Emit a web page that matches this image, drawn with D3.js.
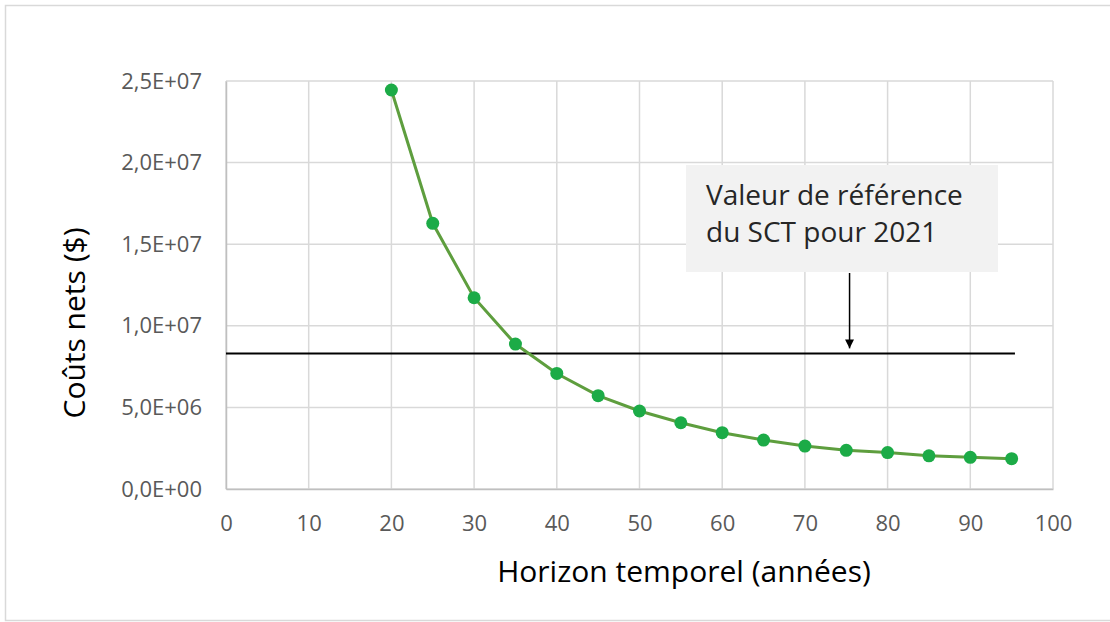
<!DOCTYPE html>
<html>
<head>
<meta charset="utf-8">
<script src="https://cdn.jsdelivr.net/npm/d3@7"></script>
<style>
  body { margin: 0; background: #fff; }
  svg { display: block; font-family: "Open Sans", "Noto Sans", sans-serif; }
</style>
</head>
<body>
<div id="chart"></div>
<script>
// horizon (years) and net costs ($)
const horizons = [20, 25, 30, 35, 40, 45, 50, 55, 60, 65, 70, 75, 80, 85, 90, 95];
const netCosts = [24.45e6, 16.28e6, 11.72e6, 8.88e6, 7.08e6, 5.72e6, 4.78e6, 4.06e6,
  3.45e6, 3.0e6, 2.63e6, 2.37e6, 2.23e6, 2.03e6, 1.94e6, 1.86e6];

const xTicks = [0, 10, 20, 30, 40, 50, 60, 70, 80, 90, 100];
const yTicks = [0, 5e6, 10e6, 15e6, 20e6, 25e6];
const yTickLabels = ["0,0E+00", "5,0E+06", "1,0E+07", "1,5E+07", "2,0E+07", "2,5E+07"];

// reference value (SCT 2021)
const refValue = 8.31e6;
const refStart = 0;
const refEnd = 95.4;
const arrowAt = 75.4;
const noteLines = ["Valeur de référence", "du SCT pour 2021"];

const W = 1110, H = 622;
const margin = { top: 81, right: 57, bottom: 133, left: 226 };
const width = W - margin.left - margin.right;
const height = H - margin.top - margin.bottom;
const FONT = "'Open Sans', 'Noto Sans', sans-serif";

const svg = d3.select("#chart").append("svg")
  .attr("width", W)
  .attr("height", H);

// outer chart border
svg.append("rect")
  .attr("x", 5.5).attr("y", 5.5)
  .attr("width", W + 10).attr("height", 615)
  .attr("fill", "none")
  .attr("stroke", "#d9d9d9")
  .attr("stroke-width", 1.5);

const g = svg.append("g")
  .attr("transform", "translate(" + margin.left + "," + margin.top + ")");

const x = d3.scaleLinear().domain([0, 100]).range([0, width]);
const y = d3.scaleLinear().domain([0, 25e6]).range([height, 0]);

// gridlines
g.append("g").selectAll("line").data(xTicks).join("line")
  .attr("x1", d => x(d)).attr("x2", d => x(d))
  .attr("y1", 0).attr("y2", height)
  .attr("stroke", "#d9d9d9").attr("stroke-width", 1.5);

g.append("g").selectAll("line").data(yTicks).join("line")
  .attr("x1", 0).attr("x2", width)
  .attr("y1", d => y(d)).attr("y2", d => y(d))
  .attr("stroke", "#d9d9d9").attr("stroke-width", 1.5);

// axes (labels only, Excel style)
const xAxis = d3.axisBottom(x).tickValues(xTicks).tickSize(0).tickPadding(26);
g.append("g")
  .attr("transform", "translate(0," + height + ")")
  .call(xAxis)
  .attr("font-family", FONT)
  .attr("font-size", 22)
  .call(a => a.select(".domain").attr("stroke", "#bfbfbf").attr("stroke-width", 1.5))
  .selectAll("text")
  .attr("fill", "#595959");

const yAxis = d3.axisLeft(y).tickValues(yTicks).tickSize(0).tickPadding(24)
  .tickFormat((d, i) => yTickLabels[i]);
g.append("g")
  .call(yAxis)
  .attr("font-family", FONT)
  .attr("font-size", 22)
  .call(a => a.select(".domain").attr("stroke", "#bfbfbf").attr("stroke-width", 1.5))
  .selectAll("text")
  .attr("fill", "#595959");

// axis titles
svg.append("text")
  .attr("x", 684).attr("y", 582)
  .attr("text-anchor", "middle")
  .attr("fill", "#000")
  .attr("font-size", 30)
  .text("Horizon temporel (années)");

svg.append("text")
  .attr("transform", "translate(85,323) rotate(-90)")
  .attr("text-anchor", "middle")
  .attr("fill", "#000")
  .attr("font-size", 30)
  .text("Coûts nets ($)");

// reference line
g.append("line")
  .attr("x1", x(refStart)).attr("x2", x(refEnd))
  .attr("y1", y(refValue)).attr("y2", y(refValue))
  .attr("stroke", "#000").attr("stroke-width", 2);

// annotation box
const boxX = 686 - margin.left, boxY = 165 - margin.top;
g.append("rect")
  .attr("x", boxX).attr("y", boxY)
  .attr("width", 312).attr("height", 107)
  .attr("fill", "#f2f2f2");

g.append("g").selectAll("text").data(noteLines).join("text")
  .attr("x", boxX + 20)
  .attr("y", (d, i) => boxY + 40 + i * 37)
  .attr("fill", "#262626")
  .attr("font-size", 28)
  .text(d => d);

// arrow
svg.append("defs").append("marker")
  .attr("id", "arrowhead")
  .attr("viewBox", "0 0 10 10")
  .attr("refX", 10).attr("refY", 5)
  .attr("markerWidth", 6).attr("markerHeight", 6)
  .attr("markerUnits", "strokeWidth")
  .attr("orient", "auto")
  .append("path")
  .attr("d", "M0,0 L10,5 L0,10 Z")
  .attr("fill", "#000");

g.append("line")
  .attr("x1", x(arrowAt)).attr("x2", x(arrowAt))
  .attr("y1", boxY + 108).attr("y2", y(refValue) - 5)
  .attr("stroke", "#000").attr("stroke-width", 1.5)
  .attr("marker-end", "url(#arrowhead)");

// data line and markers
const series = horizons.map((h, i) => ({ h: h, v: netCosts[i] }));

const line = d3.line()
  .x(d => x(d.h))
  .y(d => y(d.v));

g.append("path")
  .datum(series)
  .attr("d", line)
  .attr("fill", "none")
  .attr("stroke", "#5e9e3e")
  .attr("stroke-width", 3);

g.append("g").selectAll("circle").data(series).join("circle")
  .attr("cx", d => x(d.h))
  .attr("cy", d => y(d.v))
  .attr("r", 6.5)
  .attr("fill", "#1cab47");
</script>
</body>
</html>
